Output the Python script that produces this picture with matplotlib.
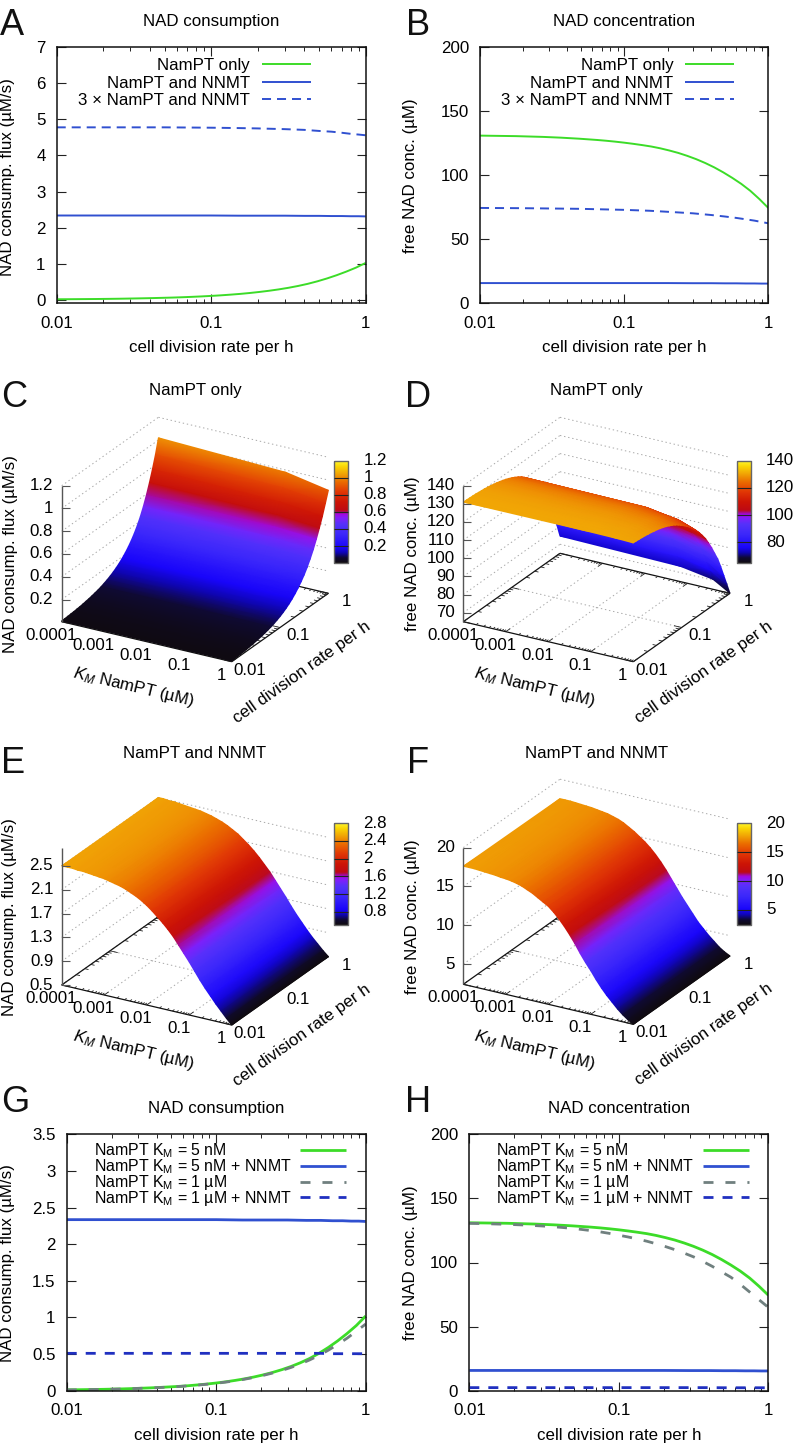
import numpy as np
import matplotlib
matplotlib.use("Agg")
import matplotlib.pyplot as plt
from matplotlib.collections import LineCollection
from matplotlib.colors import LinearSegmentedColormap
from matplotlib.ticker import FixedLocator, FixedFormatter, NullFormatter

plt.rcParams.update({
    'font.family': ['Liberation Sans', 'DejaVu Sans'],
    'mathtext.fontset': 'custom',
    'mathtext.rm': 'Liberation Sans',
    'mathtext.it': 'Liberation Sans:italic',
    'mathtext.bf': 'Liberation Sans:bold',
    'lines.scale_dashes': False,
    'lines.solid_capstyle': 'butt',
    'lines.dash_capstyle': 'butt',
})

W, H = 793, 1443
FS = 12.2

# ---------- line panel data ----------
rate_line = [0.01, 0.02, 0.05, 0.1, 0.15, 0.2, 0.3, 0.4, 0.5, 0.6, 0.7, 0.8, 0.9, 1.0]
flux_nnmt = [2.335, 2.335, 2.335, 2.335, 2.33, 2.33, 2.33, 2.325, 2.325, 2.32, 2.32, 2.315, 2.315, 2.31]
flux_3x = [4.78, 4.78, 4.78, 4.77, 4.76, 4.75, 4.73, 4.71, 4.68, 4.66, 4.63, 4.60, 4.58, 4.56]
flux_km1_nnmt = [0.51, 0.51, 0.51, 0.51, 0.51, 0.51, 0.51, 0.51, 0.51, 0.505, 0.505, 0.505, 0.505, 0.505]
conc_nnmt = [15.8, 15.8, 15.8, 15.8, 15.8, 15.8, 15.7, 15.7, 15.6, 15.6, 15.5, 15.5, 15.4, 15.4]
conc_3x = [74.5, 74.3, 73.8, 73, 72.3, 71.5, 70.3, 69, 67.8, 66.7, 65.6, 64.6, 63.5, 62.5]
conc_km1_nnmt = [2.4, 2.4, 2.4, 2.4, 2.4, 2.4, 2.4, 2.4, 2.3, 2.3, 2.3, 2.3, 2.3, 2.3]

# ---------- surface data (the km_low / km_top columns are also the 5 nM and 1 uM curves) ----------
rate_surface = [0.01, 0.01155, 0.01334, 0.0154, 0.01778, 0.02054, 0.02371, 0.02738, 0.03162, 0.03652, 0.04217,
                0.0487, 0.05623, 0.06494, 0.07499, 0.0866, 0.1, 0.1155, 0.1334, 0.154, 0.1778, 0.2054, 0.2371,
                0.2738, 0.3162, 0.3652, 0.4217, 0.487, 0.5623, 0.6494, 0.7499, 0.866, 1.0]
km_c = [1e-4, 0.1, 1.0]
c_km_low = [.012, .013, .015, .017, .019, .022, .025, .029, .034, .039, .045, .052, .059, .068, .079, .091, .105,
            .121, .140, .161, .186, .215, .248, .286, .330, .381, .440, .510, .590, .680, .780, .890, 1.02]
c_km_mid = [.012, .013, .015, .017, .019, .022, .025, .029, .034, .039, .045, .052, .059, .068, .079, .091, .105,
            .121, .140, .161, .186, .215, .248, .286, .330, .379, .437, .503, .577, .660, .755, .862, .98]
c_km_high = [.011, .012, .014, .016, .018, .021, .024, .028, .033, .038, .043, .050, .057, .066, .076, .088, .101,
             .117, .135, .156, .180, .208, .240, .276, .317, .365, .420, .482, .553, .632, .716, .812, .91]

km_d = [1e-4, 0.07, 0.4, 1.0]
d_km_low = [131, 130.9, 130.8, 130.7, 130.6, 130.4, 130.2, 130.0, 129.7, 129.4, 129.0, 128.6, 128.1, 127.6, 127.0,
            126.3, 125.5, 124.6, 123.6, 122.5, 121.1, 119.4, 117.5, 115.2, 112.6, 109.6, 106.2, 102.3, 98.0, 93.3,
            87.9, 81.5, 74.5]
d_km_mid = [131, 130.9, 130.8, 130.7, 130.5, 130.3, 130.1, 129.8, 129.5, 129.2, 128.8, 128.3, 127.8, 127.2, 126.6,
            125.8, 125, 124, 123, 121.8, 120.4, 118.7, 116.7, 114.4, 111.8, 108.8, 105.4, 101.5, 97.2, 92.4, 86.8,
            80.4, 73.4]
d_km_high = [130.8, 130.7, 130.6, 130.4, 130.2, 130, 129.8, 129.5, 129.1, 128.7, 128.2, 127.7, 127.1, 126.4, 125.6,
             124.6, 123.5, 122.4, 121, 119.5, 117.8, 115.8, 113.5, 111, 108, 104.8, 101.2, 97.2, 92.8, 88, 82.6,
             76.8, 70.5]
d_km_top = [130.5, 130.4, 130.2, 130, 129.8, 129.5, 129.2, 128.8, 128.4, 127.9, 127.3, 126.6, 125.8, 124.9, 123.9,
            122.7, 121.3, 119.9, 118.3, 116.6, 114.6, 112.4, 110, 107.3, 104.4, 100.8, 97.0, 92.7, 88.5, 83, 77, 71,
            65]

km_ef = [1e-4, 1.334e-4, 1.778e-4, 2.371e-4, 3.162e-4, 4.217e-4, 5.623e-4, 7.499e-4, 1e-3, 1.334e-3, 1.778e-3,
         2.371e-3, 3.162e-3, 4.217e-3, 5.623e-3, 7.499e-3, 0.01, 0.01334, 0.01778, 0.02371, 0.03162, 0.04217, 0.05623,
         0.07499, 0.1, 0.1334, 0.1778, 0.2371, 0.3162, 0.4217, 0.5623, 0.7499, 1.0]
rate_ef = [0.01, 1.0]
e_rate_low = [2.50, 2.50, 2.50, 2.49, 2.49, 2.48, 2.47, 2.46, 2.45, 2.43, 2.41, 2.39, 2.36, 2.32, 2.28, 2.23, 2.17,
              2.10, 2.02, 1.94, 1.85, 1.75, 1.63, 1.51, 1.39, 1.26, 1.13, 1.01, .90, .79, .69, .59, .50]
e_rate_high = [2.50, 2.50, 2.49, 2.49, 2.48, 2.47, 2.46, 2.45, 2.44, 2.42, 2.40, 2.37, 2.34, 2.30, 2.25, 2.20, 2.13,
               2.06, 1.98, 1.89, 1.79, 1.69, 1.57, 1.45, 1.33, 1.20, 1.08, .97, .86, .76, .67, .58, .50]
f_rate_low = [17.6, 17.6, 17.6, 17.55, 17.5, 17.45, 17.4, 17.3, 17.25, 17.15, 17.0, 16.8, 16.5, 16.2, 15.8, 15.4, 15.0,
              14.4, 13.7, 12.9, 12.0, 11.0, 9.9, 8.9, 8.0, 7.0, 6.1, 5.3, 4.6, 3.9, 3.3, 2.8, 2.4]
f_rate_high = [17.5, 17.5, 17.5, 17.45, 17.4, 17.35, 17.3, 17.2, 17.1, 17.0, 16.8, 16.6, 16.3, 15.9, 15.5, 15.0, 14.5,
               13.9, 13.2, 12.4, 11.5, 10.5, 9.5, 8.5, 7.6, 6.7, 5.8, 5.1, 4.4, 3.8, 3.2, 2.75, 2.4]

# ---------- palette ----------
palette_stops = [(0, (15, 10, 15)), (.05, (15, 10, 50)), (.10, (15, 5, 180)), (.15, (25, 5, 250)), (.28, (60, 40, 250)),
                 (.38, (85, 50, 250)), (.44, (130, 30, 250)), (.475, (160, 10, 230)), (.50, (170, 10, 110)),
                 (.52, (190, 10, 20)), (.6, (205, 20, 5)), (.7, (225, 55, 5)), (.8, (235, 110, 0)),
                 (.87, (240, 160, 5)), (.95, (250, 215, 5)), (1, (255, 245, 45))]
cmap = LinearSegmentedColormap.from_list('pm3d', [(t, tuple(v / 255 for v in c)) for t, c in palette_stops], N=512)

GREEN, BLUE, DBLUE, GRAY = '#3cdc28', '#3050d0', '#2030c0', '#70807f'

fig = plt.figure(figsize=(W / 100, H / 100), dpi=100)
over = fig.add_axes([0, 0, 1, 1], zorder=10)
over.patch.set_alpha(0)
over.set_axis_off()
over.set_xlim(0, W)
over.set_ylim(H, 0)

rate_major = [0.01, 0.1, 1]
rate_major_labels = ['0.01', '0.1', '1']
rate_minor = [m * d for d in (0.01, 0.1) for m in range(2, 10)]


def line_panel(rect, ylim, yticks, ylabels, ylabel_text, ylabel_xy, title, series, legend):
    l, r, t, b = rect
    ax = fig.add_axes([l / W, 1 - b / H, (r - l) / W, (b - t) / H])
    for (x, y, color, lw, dash, label), row in zip(series, legend['rows']):
        kw = {'dashes': dash} if dash else {}
        ax.plot(x, y, color=color, lw=lw, **kw)
        over.plot(legend['line'], [row, row], color=color, lw=lw, **kw)
        over.text(legend['x'], row + legend['drop'], label, ha=legend['ha'], va='baseline', fontsize=legend['fs'])
    ax.set_xscale('log')
    ax.set_xlim(0.01, 1)
    ax.set_ylim(*ylim)
    ax.xaxis.set_major_locator(FixedLocator(rate_major))
    ax.xaxis.set_major_formatter(FixedFormatter(rate_major_labels))
    ax.xaxis.set_minor_locator(FixedLocator(rate_minor))
    ax.xaxis.set_minor_formatter(NullFormatter())
    ax.set_yticks(yticks)
    ax.set_yticklabels(ylabels)
    ax.tick_params(which='major', direction='in', length=6.5, width=0.8, top=True, right=True, labelsize=FS,
                   color='#222222')
    ax.tick_params(axis='x', which='major', pad=9)
    ax.tick_params(axis='y', which='major', pad=8)
    ax.tick_params(which='minor', direction='in', length=3.2, width=0.7, top=True, color='#222222')
    for s in ax.spines.values():
        s.set_linewidth(1.1)
        s.set_color('#111111')
    over.text((l + r) / 2, t - 25.5, title, ha='center', va='center', fontsize=FS)
    over.text((l + r) / 2, b + 44.5, 'cell division rate per h', ha='center', va='center', fontsize=FS)
    over.text(ylabel_xy[0], ylabel_xy[1], ylabel_text, ha='center', va='center', rotation=90, fontsize=FS)
    return ax


D1 = (6.5, 4.3)
D2 = (7.2, 8.6)
D3 = (7.2, 6.5)
ROWS3 = [64.3, 81.7, 98.7]
ROWS4 = [1150.3, 1166, 1181.7, 1197.3]

line_panel((56.7, 365.7, 47.3, 303.3), (-0.1, 7), range(0, 8), [str(i) for i in range(8)],
           'NAD consump. flux (µM/s)', (7.5, 176.7), 'NAD consumption',
           [(rate_surface, c_km_low, GREEN, 1.4, None, 'NamPT only'),
            (rate_line, flux_nnmt, BLUE, 1.4, None, 'NamPT and NNMT'),
            (rate_line, flux_3x, BLUE, 1.4, D1, '3 × NamPT and NNMT')],
           dict(fs=FS, x=250, ha='right', line=[261.7, 311], rows=ROWS3, drop=6))
line_panel((480, 768.3, 47.3, 303.3), (0, 200), [0, 50, 100, 150, 200], ['0', '50', '100', '150', '200'],
           'free NAD conc. (µM)', (410.7, 176), 'NAD concentration',
           [(rate_surface, d_km_low, GREEN, 1.4, None, 'NamPT only'),
            (rate_line, conc_nnmt, BLUE, 1.4, None, 'NamPT and NNMT'),
            (rate_line, conc_3x, BLUE, 1.4, D1, '3 × NamPT and NNMT')],
           dict(fs=FS, x=673.3, ha='right', line=[685, 734.3], rows=ROWS3, drop=6))
line_panel((66.7, 365.7, 1134.3, 1390.7), (0, 3.5), [0, .5, 1, 1.5, 2, 2.5, 3, 3.5],
           ['0', '0.5', '1', '1.5', '2', '2.5', '3', '3.5'],
           'NAD consump. flux (µM/s)', (7.5, 1262.7), 'NAD consumption',
           [(rate_surface, c_km_low, GREEN, 2.0, None, 'NamPT K$_{\\mathrm{M}}$ = 5 nM'),
            (rate_line, flux_nnmt, BLUE, 2.0, None, 'NamPT K$_{\\mathrm{M}}$ = 5 nM + NNMT'),
            (rate_surface, c_km_high, GRAY, 2.0, D2, 'NamPT K$_{\\mathrm{M}}$ = 1 µM'),
            (rate_line, flux_km1_nnmt, DBLUE, 2.0, D3, 'NamPT K$_{\\mathrm{M}}$ = 1 µM + NNMT')],
           dict(fs=11.4, x=94, ha='left', line=[300, 346], rows=ROWS4, drop=5.5))
line_panel((469.3, 768.3, 1134.3, 1390.7), (0, 200), [0, 50, 100, 150, 200], ['0', '50', '100', '150', '200'],
           'free NAD conc. (µM)', (410.7, 1263), 'NAD concentration',
           [(rate_surface, d_km_low, GREEN, 2.0, None, 'NamPT K$_{\\mathrm{M}}$ = 5 nM'),
            (rate_line, conc_nnmt, BLUE, 2.0, None, 'NamPT K$_{\\mathrm{M}}$ = 5 nM + NNMT'),
            (rate_surface, d_km_top, GRAY, 2.0, D2, 'NamPT K$_{\\mathrm{M}}$ = 1 µM'),
            (rate_line, conc_km1_nnmt, DBLUE, 2.0, D3, 'NamPT K$_{\\mathrm{M}}$ = 1 µM + NNMT')],
           dict(fs=11.4, x=496, ha='left', line=[702.7, 748.7], rows=ROWS4, drop=5.5))


km_major = [1e-4, 1e-3, 1e-2, 1e-1, 1]
km_major_labels = ['0.0001', '0.001', '0.01', '0.1', '1']
km_minor = [m * d for d in (1e-4, 1e-3, 1e-2, 1e-1) for m in range(2, 10)]


class Frame:
    """Gnuplot-style orthographic view 60,30: maps (KM, rate, z) to figure pixels."""

    def __init__(self, origin, zlim, zheight):
        self.o = np.array(origin, float)
        self.xv = np.array((170.0, 40.0))
        self.yv = np.array((96.7, -68.4))
        self.zlim = zlim
        self.zh = zheight

    def __call__(self, km, rate, z):
        u = (np.log10(km) + 4) / 4
        v = (np.log10(rate) + 2) / 2
        w = (np.asarray(z, float) - self.zlim[0]) / (self.zlim[1] - self.zlim[0])
        return (self.o[0] + u * self.xv[0] + v * self.yv[0],
                self.o[1] + u * self.xv[1] + v * self.yv[1] - w * self.zh)


def segs(frame, pairs):
    return [[frame(*a), frame(*b)] for a, b in pairs]


def surface_panel(origin, zlim, zheight, zticks, zticklabels, zlabel, zlabel_xy, title, title_y,
                  km, rate, table, cb_rect, cb_ticks, cb_labels):
    f = Frame(origin, zlim, zheight)
    z0, z1 = zlim
    # back-wall grid
    wall = []
    for z in zticks:
        wall += segs(f, [((1e-4, 0.01, z), (1e-4, 1, z)), ((1e-4, 1, z), (1, 1, z))])
    # floor grid
    floor = segs(f, [((k, 0.01, z0), (k, 1, z0)) for k in km_major[1:-1]])
    floor += segs(f, [((1e-4, 0.1, z0), (1, 0.1, z0))])
    over.add_collection(LineCollection(wall + floor, colors='#a8a8a8', linewidths=0.7,
                                       linestyles=[(0, (1.0, 2.0))], zorder=1))
    # floor frame and ticks
    border = segs(f, [((1e-4, 0.01, z0), (1, 0.01, z0)), ((1, 0.01, z0), (1, 1, z0)),
                      ((1, 1, z0), (1e-4, 1, z0)), ((1e-4, 1, z0), (1e-4, 0.01, z0))])
    ticks = []
    for vals, frac in ((km_major, 0.045), (km_minor, 0.022)):
        for k in vals:
            step = 10 ** (2 * frac)
            ticks += segs(f, [((k, 0.01, z0), (k, 0.01 * step, z0)), ((k, 1, z0), (k, 1 / step, z0))])
    for vals, frac in ((rate_major, 0.045), (rate_minor, 0.022)):
        for r in vals:
            step = 10 ** (4 * frac)
            ticks += segs(f, [((1e-4, r, z0), (1e-4 * step, r, z0)), ((1, r, z0), (1 / step, r, z0))])
    over.add_collection(LineCollection(border, colors='#111111', linewidths=0.9, zorder=2))
    over.add_collection(LineCollection(ticks, colors='#222222', linewidths=0.6, zorder=2))
    # surface: rows ordered far to near so the near part hides the far part
    K, R = np.meshgrid(km, rate[::-1])
    Z = np.array(table)[::-1]
    X, Y = f(K, R, Z)
    over.pcolormesh(X, Y, Z, shading='gouraud', cmap=cmap, vmin=z0, vmax=z1, zorder=3)
    over.set_xlim(0, W)
    over.set_ylim(H, 0)
    # z axis
    ox, oy = f.o
    over.plot([ox, ox], [oy, oy - zheight], color='#555555', lw=1.0, zorder=4)
    for z, lab in zip(zticks, zticklabels):
        x, y = f(1e-4, 0.01, z)
        over.plot([x, x + 8], [y, y], color='#555555', lw=0.8, zorder=4)
        over.text(x - 8.5, y, lab, ha='right', va='center', fontsize=FS, zorder=5)
    # tick labels
    for k, lab in zip(km_major, km_major_labels):
        x, y = f(k, 0.01, z0)
        over.text(x - 10.5, y + 13.5, lab, ha='center', va='center', fontsize=FS, zorder=5)
    for r, lab in zip(rate_major, rate_major_labels):
        x, y = f(1, r, z0)
        over.text(x + 18, y + 8.5, lab, ha='center', va='center', fontsize=FS, zorder=5)
    over.text(ox + 71.5, oy + 65.5, '$K_M$ NamPT (µM)', rotation=-13.5, rotation_mode='anchor',
              ha='center', va='center', fontsize=FS, zorder=5)
    over.text(ox + 240.5, oy + 50.5, 'cell division rate per h', rotation=35.3, rotation_mode='anchor',
              ha='center', va='center', fontsize=FS, zorder=5)
    over.text(zlabel_xy[0], zlabel_xy[1], zlabel, rotation=90, ha='center', va='center', fontsize=FS, zorder=5)
    over.text(ox + 133.3, title_y, title, ha='center', va='center', fontsize=FS, zorder=5)
    # colour box
    l, r, t, b = cb_rect
    over.imshow(np.linspace(0, 1, 256)[:, None], extent=(l, r, b, t), origin='lower', aspect='auto',
                cmap=cmap, vmin=0, vmax=1, zorder=5)
    over.set_xlim(0, W)
    over.set_ylim(H, 0)
    over.plot([l, r, r, l, l], [t, t, b, b, t], color='#666666', lw=1.0, zorder=6)
    for v, lab in zip(cb_ticks, cb_labels):
        y = b - (v - z0) / (z1 - z0) * (b - t)
        if abs(v - z1) > 1e-6:
            over.plot([l, r], [y, y], color='#222222', lw=0.8, zorder=6)
        over.text(r + 15.5, y, lab, ha='left', va='center', fontsize=FS, zorder=6)


table_c = np.column_stack([c_km_low, c_km_mid, c_km_high])
table_d = np.column_stack([d_km_low, d_km_mid, d_km_high, d_km_top])
table_e = np.vstack([e_rate_low, e_rate_high])
table_f = np.vstack([f_rate_low, f_rate_high])

surface_panel((61.7, 621.7), (0.005, 1.2), 136, [.2, .4, .6, .8, 1, 1.2], ['0.2', '0.4', '0.6', '0.8', '1', '1.2'],
              'NAD consump. flux (µM/s)', (11, 554), 'NamPT only', 391,
              km_c, rate_surface, table_c, (334, 348, 460.7, 562.7), [.2, .4, .6, .8, 1, 1.2],
              ['0.2', '0.4', '0.6', '0.8', '1', '1.2'])
surface_panel((463.3, 621.7), (65, 140), 136, [70, 80, 90, 100, 110, 120, 130, 140],
              ['70', '80', '90', '100', '110', '120', '130', '140'],
              'free NAD conc. (µM)', (413, 554), 'NamPT only', 391,
              km_d, rate_surface, table_d, (736.7, 750.7, 460.7, 562.7), [80, 100, 120, 140],
              ['80', '100', '120', '140'])
surface_panel((61.7, 985), (0.5, 2.8), 137, [.5, .9, 1.3, 1.7, 2.1, 2.5], ['0.5', '0.9', '1.3', '1.7', '2.1', '2.5'],
              'NAD consump. flux (µM/s)', (10, 917.5), 'NamPT and NNMT', 753,
              km_ef, rate_ef, table_e, (334, 348, 823.3, 925), [.8, 1.2, 1.6, 2, 2.4, 2.8],
              ['0.8', '1.2', '1.6', '2', '2.4', '2.8'])
surface_panel((463.3, 984.3), (2.4, 20), 136.7, [5, 10, 15, 20], ['5', '10', '15', '20'],
              'free NAD conc. (µM)', (413, 917), 'NamPT and NNMT', 753,
              km_ef, rate_ef, table_f, (737.3, 750.7, 823.3, 925), [5, 10, 15, 20], ['5', '10', '15', '20'])

for letter, x, y in (('A', 0, 35), ('B', 406, 35), ('C', 1, 407), ('D', 405, 407), ('E', 1, 773), ('F', 407, 773),
                     ('G', 1, 1112), ('H', 405, 1112)):
    over.text(x, y, letter, fontsize=26, ha='left', va='baseline', color='#111111', zorder=7)

fig.savefig('out.png', dpi=100)
